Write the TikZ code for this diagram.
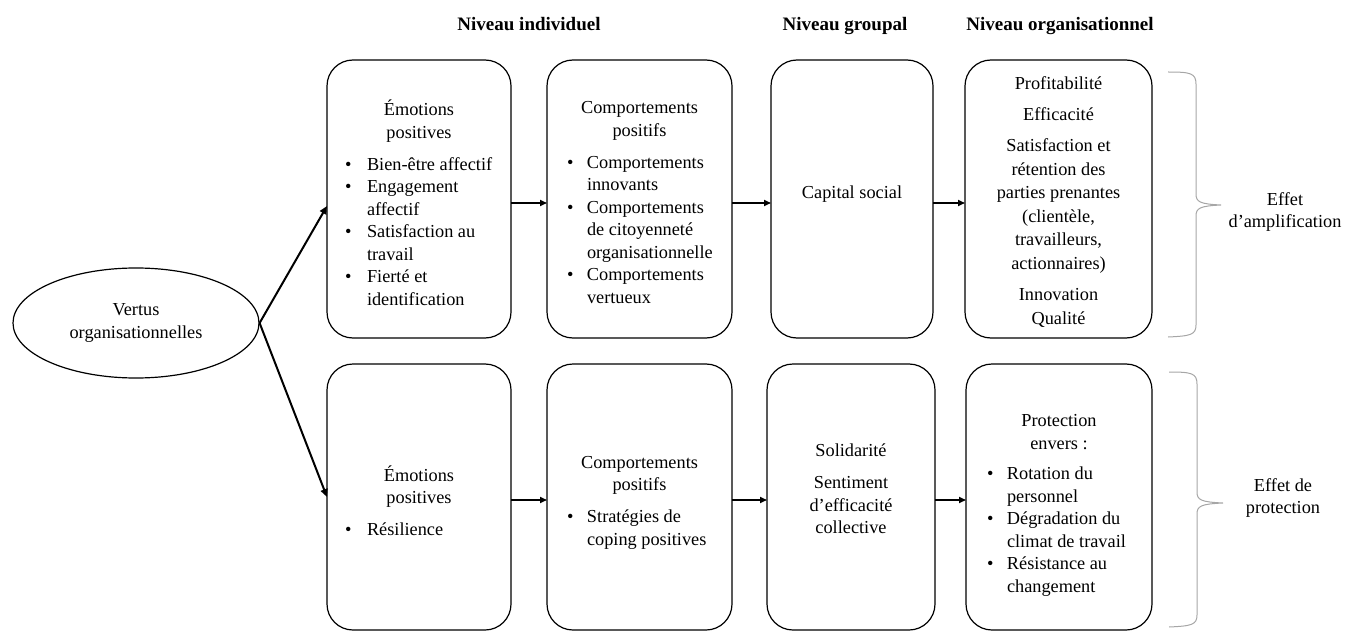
\documentclass[tikz,border=0pt]{standalone}
\usepackage{fontspec}
\setmainfont{Liberation Serif}
\usepackage{graphicx}
\usetikzlibrary{shapes.geometric,arrows.meta}
\newcommand{\bu}{\textbullet}
\newcommand{\bodyfont}{\fontsize{18.3}{22.5}\selectfont}
\tikzset{
  stagebox/.style={draw=black, line width=1.2pt, rounded corners=26pt, inner sep=0pt, outer sep=0pt, font=\bodyfont},
  arr/.style={line width=1.6pt, -{Triangle[length=7pt,width=6pt]}},
  diag/.style={line width=2pt, -{Triangle[length=8pt,width=7pt]}},
  hdr/.style={font=\fontsize{19}{22}\selectfont\bfseries, anchor=base, inner sep=0pt},
  bracestroke/.style={draw=gray!70, line width=1pt},
  lbl/.style={align=center, font=\bodyfont, inner sep=0pt}
}
\begin{document}
\begin{tikzpicture}[x=1pt,y=-1pt]
\useasboundingbox (0,0) rectangle (1346,631);

% headers
\node[hdr] (h1) at (529,31) {Niveau individuel};
\node[hdr] (h2) at (845,31) {Niveau groupal};
\node[hdr] (h3) at (1060,31) {Niveau organisationnel};

% ellipse
\node[draw, ellipse, line width=1.2pt, minimum width=246pt, minimum height=110pt,
      align=center, font=\bodyfont, inner sep=0pt] (vo) at (136,323) {Vertus\\organisationnelles};

% top row
\node[stagebox, minimum width=184pt, minimum height=278pt] (b1) at (419,199)
{\parbox{184pt}{\vspace*{14pt}\centering Émotions\\positives\par\vspace{9.5pt}\raggedright\hspace*{18pt}\begin{tabular}[t]{@{}p{22pt}@{}l@{}}\bu&Bien-être affectif\\\bu&Engagement\\&affectif\\\bu&Satisfaction au\\&travail\\\bu&Fierté et\\&identification\end{tabular}}};

\node[stagebox, minimum width=185pt, minimum height=278pt] (b2) at (639.5,199)
{\parbox{185pt}{\vspace*{14pt}\centering Comportements\\positifs\par\vspace{9.5pt}\raggedright\hspace*{20pt}\begin{tabular}[t]{@{}p{20pt}@{}l@{}}\bu&Comportements\\&innovants\\\bu&Comportements\\&de citoyenneté\\&organisationnelle\\\bu&Comportements\\&vertueux\end{tabular}}};

\node[stagebox, minimum width=162pt, minimum height=278pt] (b3) at (852,199)
{\parbox{162pt}{\centering Capital social\par\vspace*{10pt}}};

\node[stagebox, minimum width=187pt, minimum height=278pt] (b4) at (1058.5,199)
{\parbox{187pt}{\vspace*{6pt}\fontsize{18.3}{23.5}\selectfont\centering Profitabilité\\[7.5pt]Efficacité\\[8pt]Satisfaction et\\rétention des\\parties prenantes\\(clientèle,\\travailleurs,\\actionnaires)\\[7.5pt]Innovation\\[0.5pt]Qualité}};

% bottom row
\node[stagebox, minimum width=184pt, minimum height=266pt] (b5) at (419,497)
{\parbox{184pt}{\vspace*{14pt}\centering Émotions\\positives\par\vspace{9.5pt}\raggedright\hspace*{18pt}\begin{tabular}[t]{@{}p{22pt}@{}l@{}}\bu&Résilience\end{tabular}}};

\node[stagebox, minimum width=185pt, minimum height=266pt] (b6) at (639.5,497)
{\parbox{185pt}{\vspace*{14pt}\centering Comportements\\positifs\par\vspace{9.5pt}\raggedright\hspace*{20pt}\begin{tabular}[t]{@{}p{20pt}@{}l@{}}\bu&Stratégies de\\&coping positives\end{tabular}}};

\node[stagebox, minimum width=168pt, minimum height=266pt] (b7) at (851,497)
{\parbox{168pt}{\centering Solidarité\par\vspace{9.5pt}Sentiment\\d’efficacité\\collective\par\vspace*{16pt}}};

\node[stagebox, minimum width=186pt, minimum height=266pt] (b8) at (1059,497)
{\parbox{186pt}{\vspace*{20pt}\centering Protection\\envers~:\par\vspace{8pt}\raggedright\hspace*{21pt}\begin{tabular}[t]{@{}p{20pt}@{}l@{}}\bu&Rotation du\\&personnel\\\bu&Dégradation du\\&climat de travail\\\bu&Résistance au\\&changement\end{tabular}}};

% arrows
\draw[diag] (vo.east) -- ([yshift=-7pt]b1.west);
\draw[diag] (vo.east) -- (b5.west);
\draw[arr] ([yshift=-4pt]b1.east) -- ([yshift=-4pt]b2.west);
\draw[arr] ([yshift=-4pt]b2.east) -- ([yshift=-4pt]b3.west);
\draw[arr] ([yshift=-4pt]b3.east) -- ([yshift=-4pt]b4.west);
\draw[arr] ([yshift=-3pt]b5.east) -- ([yshift=-3pt]b6.west);
\draw[arr] ([yshift=-3pt]b6.east) -- ([yshift=-3pt]b7.west);
\draw[arr] ([yshift=-3pt]b7.east) -- ([yshift=-3pt]b8.west);

% braces
\draw[bracestroke] (1168,72) .. controls (1190,72) and (1196,73) .. (1196,84) -- (1196,194)
  .. controls (1196,202) and (1200,204) .. (1221,205)
  .. controls (1200,206) and (1196,208) .. (1196,216) -- (1196,325)
  .. controls (1196,335) and (1190,336) .. (1168,337);
\draw[bracestroke] (1169,372) .. controls (1191,372) and (1197,373) .. (1197,384) -- (1197,492)
  .. controls (1197,500) and (1201,502) .. (1223,503)
  .. controls (1201,504) and (1197,506) .. (1197,514) -- (1197,615)
  .. controls (1197,625) and (1191,626) .. (1169,627);

% effect labels
\node[lbl] (amp) at (1285,212) {Effet\\d’amplification};
\node[lbl] (prot) at (1283,498) {Effet de\\protection};
\end{tikzpicture}
\end{document}
